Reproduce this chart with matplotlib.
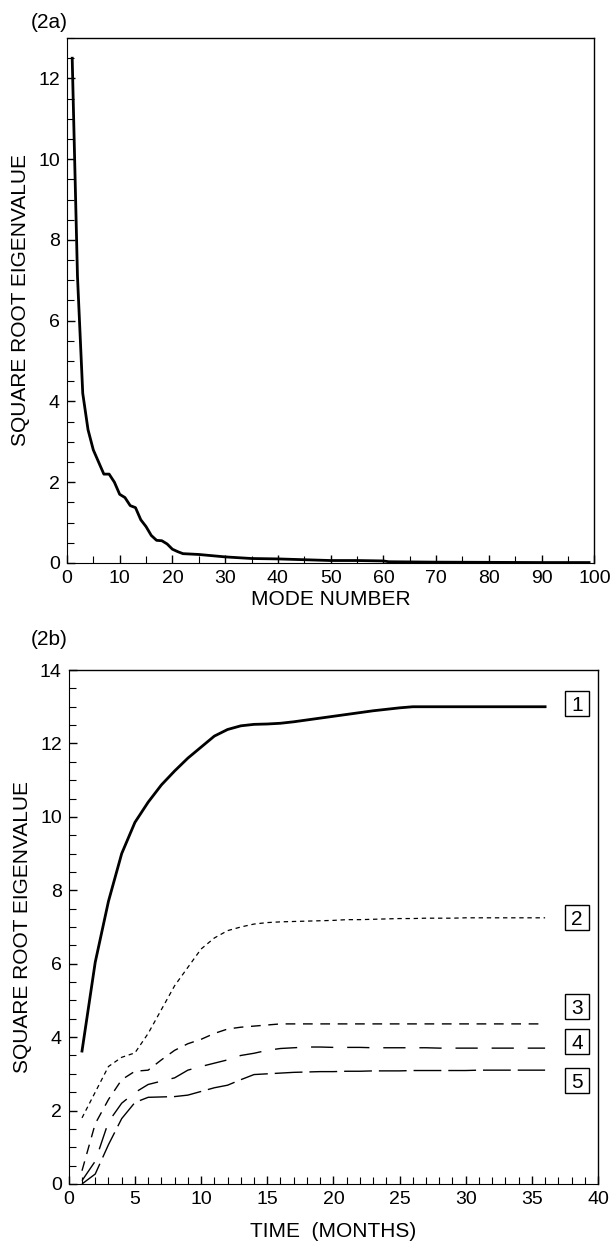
import numpy as np
import matplotlib.pyplot as plt
from matplotlib.ticker import MultipleLocator
from matplotlib.patches import Rectangle

plt.rcParams['font.family'] = ['Liberation Sans', 'DejaVu Sans']

# (2a) square root eigenvalue vs mode number
mode = [1, 2, 3, 4, 5, 6, 7, 8, 9, 10, 11, 12, 13, 14, 15, 16, 17, 18, 19, 20,
        21, 22, 25, 30, 35, 40, 45, 50, 55, 60, 61, 70, 80, 90, 99]
eig = [12.5, 7.1, 4.2, 3.3, 2.8, 2.5, 2.2, 2.2, 2.0, 1.7, 1.62, 1.42, 1.37,
       1.07, 0.9, 0.68, 0.56, 0.55, 0.47, 0.34, 0.28, 0.23, 0.21, 0.15, 0.11,
       0.1, 0.08, 0.06, 0.06, 0.05, 0.03, 0.02, 0.015, 0.01, 0.01]

# (2b) first five modes vs time
months = list(range(1, 37))
m1 = [3.62, 6.04, 7.7, 9.0, 9.85, 10.4, 10.87, 11.25, 11.6, 11.9, 12.2, 12.38,
      12.48, 12.52, 12.53, 12.55, 12.59, 12.64, 12.69, 12.74, 12.79, 12.84, 12.89,
      12.93, 12.97, 13.0, 13.0, 13.0, 13.0, 13.0, 13.0, 13.0, 13.0, 13.0, 13.0, 13.0]
m2 = [1.8, 2.5, 3.2, 3.45, 3.57, 4.1, 4.75, 5.4, 5.9, 6.4, 6.7, 6.9, 7.0, 7.08,
      7.12, 7.14, 7.15, 7.16, 7.17, 7.18, 7.2, 7.2, 7.21, 7.22, 7.23, 7.23,
      7.24, 7.24, 7.24, 7.25, 7.25, 7.25, 7.25, 7.25, 7.25, 7.25]
m3 = [0.36, 1.64, 2.3, 2.84, 3.07, 3.1, 3.38, 3.64, 3.82, 3.94, 4.1, 4.22,
      4.27, 4.3, 4.33, 4.36, 4.36, 4.36, 4.36, 4.36, 4.36, 4.36, 4.36, 4.36,
      4.36, 4.36, 4.36, 4.36, 4.36, 4.36, 4.36, 4.36, 4.36, 4.36, 4.36, 4.36]
m4 = [0.09, 0.62, 1.69, 2.2, 2.49, 2.71, 2.8, 2.89, 3.1, 3.2, 3.29, 3.38, 3.5,
      3.56, 3.64, 3.69, 3.71, 3.73, 3.73, 3.72, 3.72, 3.72, 3.71, 3.71, 3.71,
      3.71, 3.71, 3.7, 3.7, 3.7, 3.7, 3.7, 3.7, 3.7, 3.7, 3.7]
m5 = [0.0, 0.27, 1.07, 1.78, 2.22, 2.36, 2.37, 2.38, 2.42, 2.52, 2.62, 2.69,
      2.84, 2.98, 3.0, 3.02, 3.04, 3.05, 3.06, 3.06, 3.07, 3.07, 3.08, 3.08,
      3.08, 3.09, 3.09, 3.09, 3.09, 3.09, 3.1, 3.1, 3.1, 3.1, 3.1, 3.1]
mode_labels = ['1', '2', '3', '4', '5']
label_y = [13.1, 7.27, 4.83, 3.87, 2.81]

fig = plt.figure(figsize=(6.14, 12.51), dpi=100)

def style(ax):
    ax.spines['top'].set_linewidth(1.0)
    ax.spines['right'].set_linewidth(1.0)
    ax.tick_params(which='both', direction='in', top=False, right=False,
                   labelsize=14, pad=5)
    ax.tick_params(which='major', length=6, width=1)
    ax.tick_params(which='minor', length=5, width=0.8)

ax1 = fig.add_axes([0.109, 0.550, 0.859, 0.4196])
ax1.plot(mode, eig, color='black', lw=2.0)
ax1.set_xlim(0, 100)
ax1.set_ylim(0, 13)
ax1.xaxis.set_major_locator(MultipleLocator(10))
ax1.xaxis.set_minor_locator(MultipleLocator(5))
ax1.yaxis.set_major_locator(MultipleLocator(2))
ax1.yaxis.set_minor_locator(MultipleLocator(0.5))
style(ax1)
ax1.set_xlabel('MODE NUMBER', fontsize=15, labelpad=2)
ax1.set_ylabel('SQUARE ROOT EIGENVALUE', fontsize=15, labelpad=6)
fig.text(0.050, 0.982, '(2a)', fontsize=15, ha='left', va='center')

ax2 = fig.add_axes([0.112, 0.0536, 0.862, 0.4108])
ax2.plot(months, m1, color='black', lw=2.0)
ax2.plot(months, m2, color='black', lw=0.9, dashes=(3.5, 3))
ax2.plot(months, m3, color='black', lw=1.0, dashes=(7, 5.5))
ax2.plot(months, m4, color='black', lw=1.0, dashes=(16, 10))
ax2.plot(months, m5, color='black', lw=1.0, dashes=(20, 5))

# boxed mode numbers at the right-hand end of each curve
bw, bh = 1.82, 0.68
for lab, yv in zip(mode_labels, label_y):
    ax2.add_patch(Rectangle((38.4 - bw / 2, yv - bh / 2), bw, bh, fill=False,
                            ec='black', lw=1.0, clip_on=False))
    ax2.text(38.4, yv, lab, fontsize=15, ha='center', va='center_baseline')
ax2.set_xlim(0, 40)
ax2.set_ylim(0, 14)
ax2.xaxis.set_major_locator(MultipleLocator(5))
ax2.xaxis.set_minor_locator(MultipleLocator(1))
ax2.yaxis.set_major_locator(MultipleLocator(2))
ax2.yaxis.set_minor_locator(MultipleLocator(0.5))
style(ax2)
ax2.set_xlabel('TIME  (MONTHS)', fontsize=15, labelpad=10)
ax2.set_ylabel('SQUARE ROOT EIGENVALUE', fontsize=15, labelpad=6)
fig.text(0.050, 0.489, '(2b)', fontsize=15, ha='left', va='center')

fig.savefig('out.png', dpi=100)
